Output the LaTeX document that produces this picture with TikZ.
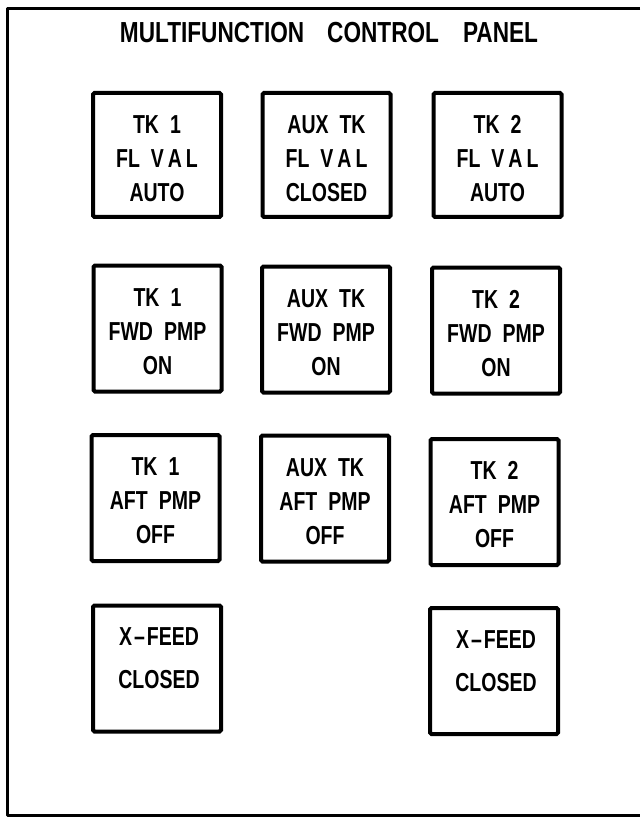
\documentclass[tikz,border=0pt]{standalone}
\usepackage{fontspec}
\newfontfamily\panelfont[FakeStretch=0.75]{Liberation Sans}
\newfontfamily\titlefont[FakeStretch=0.78]{Liberation Sans}
\newcommand{\widespaces}{\spaceskip=11pt plus 0pt minus 0pt\relax}
\begin{document}
\begin{tikzpicture}[x=1pt,y=-1pt,
  panelbox/.style={draw=black, line width=4pt, rounded corners=1.5pt, fill=white,
    minimum width=128pt, minimum height=126pt, inner sep=0pt},
  boxtext/.style={align=center, inner sep=0pt,
    font=\panelfont\bfseries\fontsize{26}{34}\selectfont,
    execute at begin node=\widespaces},
  feedtext/.style={align=center, inner sep=0pt,
    font=\panelfont\bfseries\fontsize{26}{43}\selectfont},
  titletext/.style={inner sep=0pt, font=\titlefont\bfseries\fontsize{29}{34}\selectfont}]
\useasboundingbox (0,0) rectangle (640,818);
\fill[white] (0,0) rectangle (640,818);
% outer frame (right side cut off)
\coordinate (ftr) at (640,8.5);
\coordinate (ftl) at (7.5,8.5);
\coordinate (fbl) at (7.5,815.5);
\coordinate (fbr) at (640,815.5);
\draw[line width=3pt, line join=round] (ftr) -- (ftl) -- (fbl) -- (fbr);
% title
\node[titletext] (title) at (329,33) {MULTIFUNCTION\hspace{23pt}CONTROL\hspace{24pt}PANEL};
% row 1
\node[panelbox, minimum height=124pt] (b11) at (157,155) {};
\node[panelbox, minimum height=124pt] (b12) at (326.5,155) {};
\node[panelbox, minimum height=124pt] (b13) at (497.5,155) {};
\node[boxtext] (t11) at ([yshift=-4pt]b11.center) {TK 1\\FL V\kern4pt A\kern4pt L\\AUTO};
\node[boxtext] (t12) at ([yshift=-4pt]b12.center) {AUX TK\\FL V\kern4pt A\kern4pt L\\CLOSED};
\node[boxtext] (t13) at ([yshift=-4pt]b13.center) {TK 2\\FL V\kern4pt A\kern4pt L\\AUTO};
% row 2
\node[panelbox] (b21) at (157.5,328.5) {};
\node[panelbox] (b22) at (326,329.5) {};
\node[panelbox] (b23) at (496,330.5) {};
\node[boxtext] (t21) at ([yshift=-3pt]b21.center) {TK 1\\FWD PMP\\ON};
\node[boxtext] (t22) at ([yshift=-3pt]b22.center) {AUX TK\\FWD PMP\\ON};
\node[boxtext] (t23) at ([yshift=-3pt]b23.center) {TK 2\\FWD PMP\\ON};
% row 3
\node[panelbox] (b31) at (155.5,498) {};
\node[panelbox] (b32) at (325,498.5) {};
\node[panelbox] (b33) at (494.5,502) {};
\node[boxtext] (t31) at ([yshift=-3pt]b31.center) {TK 1\\AFT PMP\\OFF};
\node[boxtext] (t32) at ([yshift=-3pt]b32.center) {AUX TK\\AFT PMP\\OFF};
\node[boxtext] (t33) at ([yshift=-3pt]b33.center) {TK 2\\AFT PMP\\OFF};
% row 4
\node[panelbox] (b41) at (157,668.5) {};
\node[panelbox] (b43) at (494,671) {};
\node[feedtext] (t41) at ([xshift=2pt,yshift=10pt]b41.center) {X\kern2pt–\kern2pt FEED\\CLOSED};
\node[feedtext] (t43) at ([xshift=2pt,yshift=10pt]b43.center) {X\kern2pt–\kern2pt FEED\\CLOSED};
\end{tikzpicture}
\end{document}
